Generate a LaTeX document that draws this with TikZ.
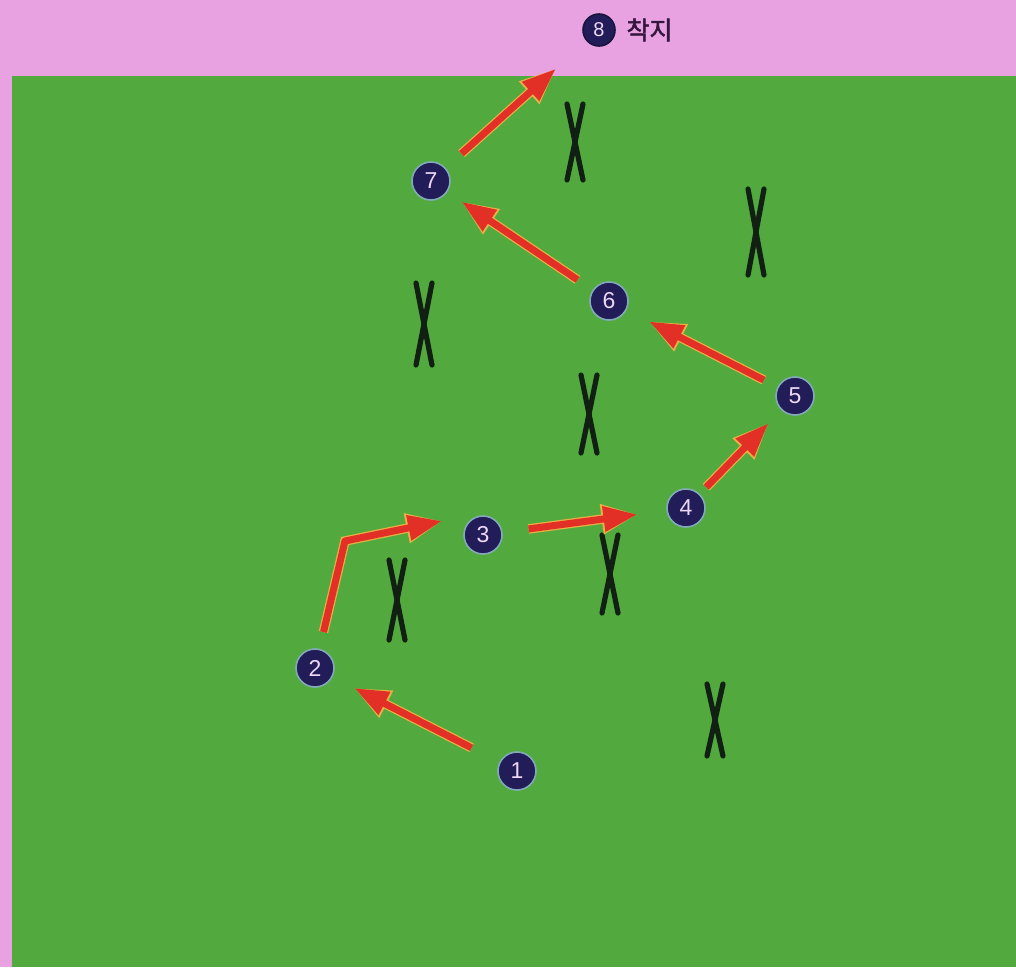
\documentclass[tikz,border=0pt]{standalone}
\usepackage{fontspec}
\setmainfont{Liberation Sans}
\newfontfamily\krfont[FakeBold=2]{Noto Sans CJK KR}
\usetikzlibrary{arrows.meta}
\definecolor{pinkbg}{RGB}{232,162,226}
\definecolor{field}{RGB}{82,170,62}
\definecolor{disc}{RGB}{34,28,88}
\definecolor{halo}{RGB}{130,170,185}
\definecolor{digit}{RGB}{236,216,244}
\definecolor{arrred}{RGB}{226,48,38}
\definecolor{arrrim}{RGB}{232,176,70}
\definecolor{xmark}{RGB}{18,32,20}
\definecolor{labeltxt}{RGB}{52,22,62}
\tikzset{
  player/.style={circle, fill=disc, draw=halo, line width=1.6pt, minimum size=38pt,
    inner sep=0pt, outer sep=0pt, text=digit, font=\fontsize{23}{23}\selectfont},
  smallplayer/.style={player, minimum size=32pt, draw=disc!70!black, font=\fontsize{20}{20}\selectfont},
  runarrow/.style={line width=7pt, draw=arrred, line join=round,
    -{Triangle[length=34pt,width=24pt]},
    preaction={draw=arrrim, line width=9.5pt, -{Triangle[length=36pt,width=28pt]}}},
  xline/.style={draw=xmark, line width=5.2pt, line cap=round}
}
\begin{document}
\begin{tikzpicture}[x=1pt,y=-1pt]
\useasboundingbox (0,0) rectangle (1016,967);
\fill[pinkbg] (0,0) rectangle (1016,967);
\fill[field] (12,76) rectangle (1016,967);

% X marks (defenders)
\foreach \cx/\cy/\h in {575/142/38, 756/232/43, 424/324/41, 589/414/39, 397/600/40, 610/574/39, 715/720/36}{
  \draw[xline] (\cx-8,\cy-\h) -- (\cx+8,\cy+\h);
  \draw[xline] (\cx+8,\cy-\h) -- (\cx-8,\cy+\h);
}

% players
\node[player] (n1) at (517,771) {1};
\node[player] (n2) at (315,668) {2};
\node[player] (n3) at (483,535) {3};
\node[player] (n4) at (686,508) {4};
\node[player] (n5) at (795,396) {5};
\node[player] (n6) at (609,301) {6};
\node[player] (n7) at (431,181) {7};
\node[smallplayer] (n8) at (599,30) {8};
\node[anchor=west, text=labeltxt, font=\krfont\fontsize{25}{25}\selectfont] (lab) at (623,30) {착지};

\coordinate (c23) at (345,541);
\coordinate (t3) at (442,521);

% runs
\draw[runarrow, shorten <=32pt, shorten >=25pt] (n1) -- (n2);
\draw[runarrow, shorten <=18pt] (n2) -- (c23) -- (t3);
\draw[runarrow, shorten <=27pt, shorten >=30pt] (n3) -- (n4);
\draw[runarrow, shorten <=10pt, shorten >=19pt] (n4) -- (n5);
\draw[runarrow, shorten <=16pt, shorten >=26pt] (n5) -- (n6);
\draw[runarrow, shorten <=19pt, shorten >=18pt] (n6) -- (n7);
\draw[runarrow, shorten <=22pt, shorten >=42pt] (n7) -- (n8);
\end{tikzpicture}
\end{document}
